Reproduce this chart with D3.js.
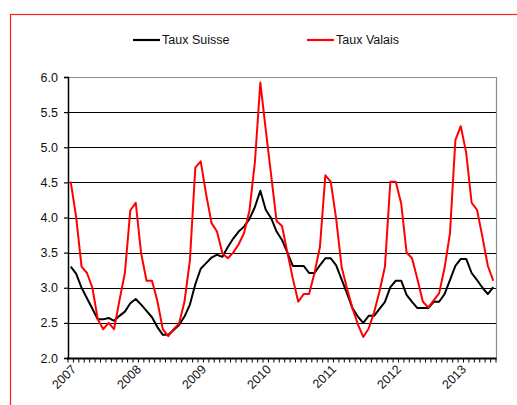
<!DOCTYPE html>
<html><head><meta charset="utf-8">
<script src="https://cdn.jsdelivr.net/npm/d3@7"></script>
<style>
html,body{margin:0;padding:0;background:#fff;}
svg{display:block;}
text{font-family:"Liberation Sans",Arial,sans-serif;fill:#111;}
</style></head>
<body>
<script>
const years = ["2007","2008","2009","2010","2011","2012","2013"];
const monthCount = 79;
const categories = d3.range(monthCount).map(i => years[Math.floor(i/12)] + "-" + String(i%12+1).padStart(2,"0"));
const yTicks = [2.0,2.5,3.0,3.5,4.0,4.5,5.0,5.5,6.0];
const seriesNames = ["Taux Suisse","Taux Valais"];
const suisse = [3.3,3.2,3.0,2.85,2.7,2.55,2.55,2.57,2.53,2.6,2.66,2.78,
  2.84,2.76,2.67,2.58,2.44,2.33,2.33,2.4,2.47,2.59,2.76,3.05,
  3.27,3.35,3.43,3.47,3.44,3.58,3.7,3.8,3.87,3.98,4.15,4.38,
  4.11,3.99,3.8,3.68,3.5,3.31,3.31,3.31,3.21,3.21,3.32,3.42,
  3.42,3.32,3.12,2.92,2.71,2.59,2.5,2.6,2.6,2.7,2.8,3.01,
  3.1,3.1,2.9,2.8,2.71,2.71,2.71,2.8,2.8,2.91,3.11,3.31,
  3.41,3.41,3.21,3.11,3.0,2.91,3.01];
const valais = [4.51,4.01,3.3,3.21,3.0,2.55,2.41,2.5,2.41,2.82,3.21,4.1,
  4.21,3.49,3.1,3.1,2.81,2.41,2.31,2.41,2.49,2.8,3.39,4.71,
  4.8,4.33,3.92,3.8,3.49,3.42,3.5,3.62,3.78,4.1,4.79,5.92,
  5.25,4.6,3.95,3.88,3.5,3.13,2.8,2.91,2.91,3.21,3.58,4.6,
  4.51,3.98,3.3,2.99,2.71,2.48,2.3,2.42,2.65,2.95,3.3,4.51,
  4.51,4.2,3.5,3.42,3.12,2.8,2.72,2.82,2.92,3.28,3.77,5.1,
  5.3,4.92,4.21,4.11,3.72,3.31,3.1];
const colors = ["#000000","#ff0000"];

const W = 517, H = 405;
const plot = {left:68, right:496, top:77, bottom:358};

const svg = d3.select("body").append("svg").attr("width",W).attr("height",H);

// outer red frame
svg.append("rect").attr("x",10.5).attr("y",14.5).attr("width",W+20).attr("height",H+20)
  .attr("fill","none").attr("stroke","#ff2020").attr("stroke-width",1.2);

const x = d3.scaleBand().domain(categories).range([plot.left, plot.right]).padding(0);
const y = d3.scaleLinear().domain([2,6]).range([plot.bottom, plot.top]);
const cx = c => x(c) + x.bandwidth()/2;

// gridlines
svg.append("g").selectAll("line").data(yTicks.filter(v => v>2 && v<6)).join("line")
  .attr("x1",plot.left).attr("x2",plot.right)
  .attr("y1",d=>Math.round(y(d))+0.5).attr("y2",d=>Math.round(y(d))+0.5)
  .attr("stroke","#000").attr("stroke-width",1);

// plot border top & right (grey)
svg.append("path")
  .attr("d",`M${plot.left},${y(6)+0.5}H${plot.right+0.5}V${plot.bottom}`)
  .attr("fill","none").attr("stroke","#8c8c8c").attr("stroke-width",1.2);

// y axis
const yAxis = d3.axisLeft(y).tickValues(yTicks).tickFormat(d3.format(".1f")).tickSize(4).tickPadding(6);
const gy = svg.append("g").attr("transform",`translate(${plot.left},0)`).call(yAxis);
gy.select(".domain").attr("stroke","#000").attr("stroke-width",1.5);
gy.selectAll(".tick line").attr("stroke","#000").attr("stroke-width",1.2);
gy.selectAll(".tick text").attr("font-size",12.5).attr("font-family","Liberation Sans, Arial, sans-serif").attr("fill","#111");

// x axis line
svg.append("line").attr("x1",plot.left-1).attr("x2",plot.right+0.5)
  .attr("y1",plot.bottom+0.5).attr("y2",plot.bottom+0.5)
  .attr("stroke","#000").attr("stroke-width",2);
// x minor ticks at category boundaries
const boundaries = categories.map(c => x(c)).concat([x(categories[categories.length-1]) + x.bandwidth()]);
svg.append("g").selectAll("line").data(boundaries).join("line")
  .attr("x1",d=>d).attr("x2",d=>d).attr("y1",plot.bottom).attr("y2",plot.bottom+4.5)
  .attr("stroke","#000").attr("stroke-width",1);

// year labels
svg.append("g").selectAll("text").data(categories.filter((c,i)=>i%12===0)).join("text")
  .attr("transform",c=>`translate(${cx(c)+3},${plot.bottom+9}) rotate(-45)`)
  .attr("text-anchor","end").attr("font-size",12.5).attr("dy","0.35em")
  .text(c=>c.slice(0,4));

// lines
const line = d3.line().x((d,i)=>cx(categories[i])).y(d=>y(d));
[suisse, valais].forEach((s,k)=>{
  svg.append("path").datum(s).attr("d",line).attr("fill","none")
    .attr("stroke",colors[k]).attr("stroke-width",2).attr("stroke-linejoin","round");
});

// legend
const legendX = [133, 307];
seriesNames.forEach((n,k)=>{
  svg.append("line").attr("x1",legendX[k]).attr("x2",legendX[k]+27).attr("y1",40).attr("y2",40)
    .attr("stroke",colors[k]).attr("stroke-width",2.2);
  svg.append("text").attr("x",legendX[k]+29).attr("y",40).attr("dy","0.35em")
    .attr("font-size",12.5).text(n);
});
</script>
</body></html>
